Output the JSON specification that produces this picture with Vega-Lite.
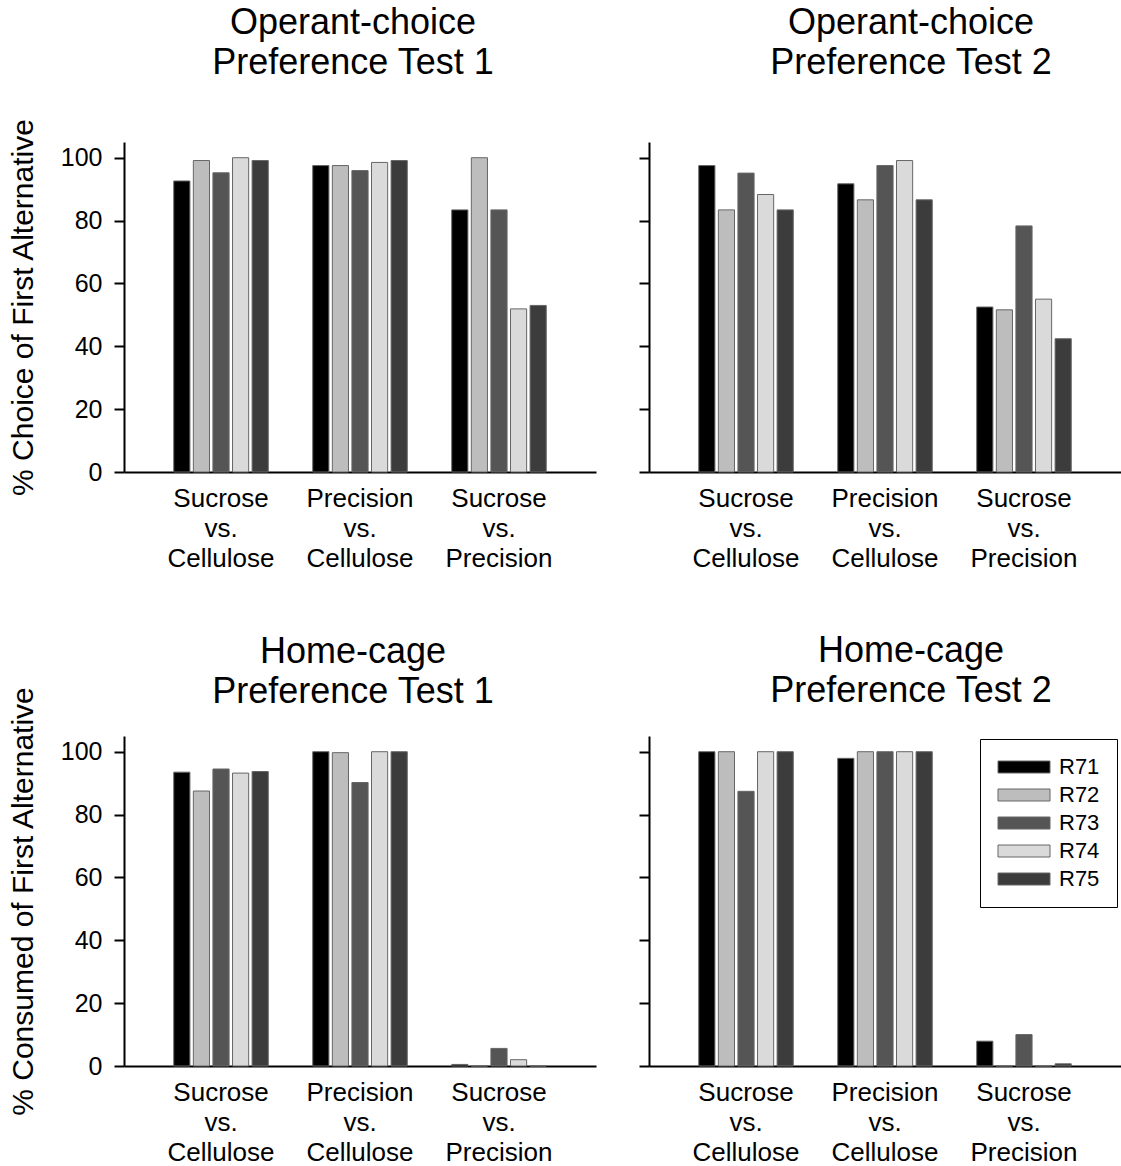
{
  "$schema": "https://vega.github.io/schema/vega-lite/v6.json",
  "padding": {"left": 8, "top": 4, "right": 0, "bottom": 0},
  "background": "white",
  "data": {"values": [
    {"panel": "TL", "comp": "Sucrose vs. Cellulose", "rat": "R71", "value": 92.6},
    {"panel": "TL", "comp": "Sucrose vs. Cellulose", "rat": "R72", "value": 99.1},
    {"panel": "TL", "comp": "Sucrose vs. Cellulose", "rat": "R73", "value": 95.2},
    {"panel": "TL", "comp": "Sucrose vs. Cellulose", "rat": "R74", "value": 100},
    {"panel": "TL", "comp": "Sucrose vs. Cellulose", "rat": "R75", "value": 99.1},
    {"panel": "TL", "comp": "Precision vs. Cellulose", "rat": "R71", "value": 97.5},
    {"panel": "TL", "comp": "Precision vs. Cellulose", "rat": "R72", "value": 97.5},
    {"panel": "TL", "comp": "Precision vs. Cellulose", "rat": "R73", "value": 95.9},
    {"panel": "TL", "comp": "Precision vs. Cellulose", "rat": "R74", "value": 98.5},
    {"panel": "TL", "comp": "Precision vs. Cellulose", "rat": "R75", "value": 99.1},
    {"panel": "TL", "comp": "Sucrose vs. Precision", "rat": "R71", "value": 83.4},
    {"panel": "TL", "comp": "Sucrose vs. Precision", "rat": "R72", "value": 100},
    {"panel": "TL", "comp": "Sucrose vs. Precision", "rat": "R73", "value": 83.4},
    {"panel": "TL", "comp": "Sucrose vs. Precision", "rat": "R74", "value": 51.9},
    {"panel": "TL", "comp": "Sucrose vs. Precision", "rat": "R75", "value": 53},
    {"panel": "TR", "comp": "Sucrose vs. Cellulose", "rat": "R71", "value": 97.5},
    {"panel": "TR", "comp": "Sucrose vs. Cellulose", "rat": "R72", "value": 83.4},
    {"panel": "TR", "comp": "Sucrose vs. Cellulose", "rat": "R73", "value": 95.1},
    {"panel": "TR", "comp": "Sucrose vs. Cellulose", "rat": "R74", "value": 88.3},
    {"panel": "TR", "comp": "Sucrose vs. Cellulose", "rat": "R75", "value": 83.4},
    {"panel": "TR", "comp": "Precision vs. Cellulose", "rat": "R71", "value": 91.7},
    {"panel": "TR", "comp": "Precision vs. Cellulose", "rat": "R72", "value": 86.6},
    {"panel": "TR", "comp": "Precision vs. Cellulose", "rat": "R73", "value": 97.5},
    {"panel": "TR", "comp": "Precision vs. Cellulose", "rat": "R74", "value": 99.1},
    {"panel": "TR", "comp": "Precision vs. Cellulose", "rat": "R75", "value": 86.6},
    {"panel": "TR", "comp": "Sucrose vs. Precision", "rat": "R71", "value": 52.5},
    {"panel": "TR", "comp": "Sucrose vs. Precision", "rat": "R72", "value": 51.6},
    {"panel": "TR", "comp": "Sucrose vs. Precision", "rat": "R73", "value": 78.3},
    {"panel": "TR", "comp": "Sucrose vs. Precision", "rat": "R74", "value": 55},
    {"panel": "TR", "comp": "Sucrose vs. Precision", "rat": "R75", "value": 42.4},
    {"panel": "BL", "comp": "Sucrose vs. Cellulose", "rat": "R71", "value": 93.5},
    {"panel": "BL", "comp": "Sucrose vs. Cellulose", "rat": "R72", "value": 87.5},
    {"panel": "BL", "comp": "Sucrose vs. Cellulose", "rat": "R73", "value": 94.5},
    {"panel": "BL", "comp": "Sucrose vs. Cellulose", "rat": "R74", "value": 93.2},
    {"panel": "BL", "comp": "Sucrose vs. Cellulose", "rat": "R75", "value": 93.7},
    {"panel": "BL", "comp": "Precision vs. Cellulose", "rat": "R71", "value": 100},
    {"panel": "BL", "comp": "Precision vs. Cellulose", "rat": "R72", "value": 99.7},
    {"panel": "BL", "comp": "Precision vs. Cellulose", "rat": "R73", "value": 90.2},
    {"panel": "BL", "comp": "Precision vs. Cellulose", "rat": "R74", "value": 100},
    {"panel": "BL", "comp": "Precision vs. Cellulose", "rat": "R75", "value": 100},
    {"panel": "BL", "comp": "Sucrose vs. Precision", "rat": "R71", "value": 0.5},
    {"panel": "BL", "comp": "Sucrose vs. Precision", "rat": "R72", "value": 0},
    {"panel": "BL", "comp": "Sucrose vs. Precision", "rat": "R73", "value": 5.6},
    {"panel": "BL", "comp": "Sucrose vs. Precision", "rat": "R74", "value": 2.0},
    {"panel": "BL", "comp": "Sucrose vs. Precision", "rat": "R75", "value": 0},
    {"panel": "BR", "comp": "Sucrose vs. Cellulose", "rat": "R71", "value": 100},
    {"panel": "BR", "comp": "Sucrose vs. Cellulose", "rat": "R72", "value": 100},
    {"panel": "BR", "comp": "Sucrose vs. Cellulose", "rat": "R73", "value": 87.4},
    {"panel": "BR", "comp": "Sucrose vs. Cellulose", "rat": "R74", "value": 100},
    {"panel": "BR", "comp": "Sucrose vs. Cellulose", "rat": "R75", "value": 100},
    {"panel": "BR", "comp": "Precision vs. Cellulose", "rat": "R71", "value": 97.9},
    {"panel": "BR", "comp": "Precision vs. Cellulose", "rat": "R72", "value": 100},
    {"panel": "BR", "comp": "Precision vs. Cellulose", "rat": "R73", "value": 100},
    {"panel": "BR", "comp": "Precision vs. Cellulose", "rat": "R74", "value": 100},
    {"panel": "BR", "comp": "Precision vs. Cellulose", "rat": "R75", "value": 100},
    {"panel": "BR", "comp": "Sucrose vs. Precision", "rat": "R71", "value": 7.9},
    {"panel": "BR", "comp": "Sucrose vs. Precision", "rat": "R72", "value": 0},
    {"panel": "BR", "comp": "Sucrose vs. Precision", "rat": "R73", "value": 10},
    {"panel": "BR", "comp": "Sucrose vs. Precision", "rat": "R74", "value": 0},
    {"panel": "BR", "comp": "Sucrose vs. Precision", "rat": "R75", "value": 0.7}
  ]},
  "vconcat": [
    {
      "resolve": {"scale": {"color": "independent", "x": "independent", "y": "independent"}, "legend": {"color": "independent"}},
      "hconcat": [
        {
          "width": 472, "height": 330,
          "transform": [{"filter": "datum.panel === 'TL'"}],
          "title": {"text": ["Operant-choice", "Preference Test 1"], "offset": 36, "dx": -7},
          "mark": {"type": "bar", "stroke": "#666666", "strokeWidth": 1},
          "encoding": {
            "x": {"field": "comp", "type": "nominal", "sort": ["Sucrose vs. Cellulose", "Precision vs. Cellulose", "Sucrose vs. Precision"], "scale": {"paddingInner": 0.32, "paddingOuter": 0.358}, "axis": {"title": null}},
            "xOffset": {"field": "rat", "type": "nominal", "sort": ["R71", "R72", "R73", "R74", "R75"], "scale": {"paddingInner": 0.175, "paddingOuter": 0}},
            "y": {"field": "value", "type": "quantitative", "scale": {"domain": [0, 105], "nice": false, "zero": true}, "axis": {"values": [0, 20, 40, 60, 80, 100], "title": "% Choice of First Alternative"}},
            "color": {"field": "rat", "type": "nominal", "scale": {"domain": ["R71", "R72", "R73", "R74", "R75"], "range": ["#000000", "#bdbdbd", "#555555", "#dadada", "#3c3c3c"]}, "legend": null}
          }
        },
        {
          "width": 472, "height": 330,
          "transform": [{"filter": "datum.panel === 'TR'"}],
          "title": {"text": ["Operant-choice", "Preference Test 2"], "offset": 60, "dx": 26},
          "mark": {"type": "bar", "stroke": "#666666", "strokeWidth": 1},
          "encoding": {
            "x": {"field": "comp", "type": "nominal", "sort": ["Sucrose vs. Cellulose", "Precision vs. Cellulose", "Sucrose vs. Precision"], "scale": {"paddingInner": 0.32, "paddingOuter": 0.358}, "axis": {"title": null}},
            "xOffset": {"field": "rat", "type": "nominal", "sort": ["R71", "R72", "R73", "R74", "R75"], "scale": {"paddingInner": 0.175, "paddingOuter": 0}},
            "y": {"field": "value", "type": "quantitative", "scale": {"domain": [0, 105], "nice": false, "zero": true}, "axis": {"values": [0, 20, 40, 60, 80, 100], "title": null, "labels": false}},
            "color": {"field": "rat", "type": "nominal", "scale": {"domain": ["R71", "R72", "R73", "R74", "R75"], "range": ["#000000", "#bdbdbd", "#555555", "#dadada", "#3c3c3c"]}, "legend": null}
          }
        }
      ]
    },
    {
      "resolve": {"scale": {"color": "independent", "x": "independent", "y": "independent"}, "legend": {"color": "independent"}},
      "hconcat": [
        {
          "width": 472, "height": 330,
          "transform": [{"filter": "datum.panel === 'BL'"}],
          "title": {"text": ["Home-cage", "Preference Test 1"], "offset": -25, "dx": -7},
          "mark": {"type": "bar", "stroke": "#666666", "strokeWidth": 1},
          "encoding": {
            "x": {"field": "comp", "type": "nominal", "sort": ["Sucrose vs. Cellulose", "Precision vs. Cellulose", "Sucrose vs. Precision"], "scale": {"paddingInner": 0.32, "paddingOuter": 0.358}, "axis": {"title": null}},
            "xOffset": {"field": "rat", "type": "nominal", "sort": ["R71", "R72", "R73", "R74", "R75"], "scale": {"paddingInner": 0.175, "paddingOuter": 0}},
            "y": {"field": "value", "type": "quantitative", "scale": {"domain": [0, 105], "nice": false, "zero": true}, "axis": {"values": [0, 20, 40, 60, 80, 100], "title": "% Consumed of First Alternative"}},
            "color": {"field": "rat", "type": "nominal", "scale": {"domain": ["R71", "R72", "R73", "R74", "R75"], "range": ["#000000", "#bdbdbd", "#555555", "#dadada", "#3c3c3c"]}, "legend": null}
          }
        },
        {
          "width": 472, "height": 330,
          "transform": [{"filter": "datum.panel === 'BR'"}],
          "title": {"text": ["Home-cage", "Preference Test 2"], "offset": 26, "dx": 26},
          "mark": {"type": "bar", "stroke": "#666666", "strokeWidth": 1},
          "encoding": {
            "x": {"field": "comp", "type": "nominal", "sort": ["Sucrose vs. Cellulose", "Precision vs. Cellulose", "Sucrose vs. Precision"], "scale": {"paddingInner": 0.32, "paddingOuter": 0.358}, "axis": {"title": null}},
            "xOffset": {"field": "rat", "type": "nominal", "sort": ["R71", "R72", "R73", "R74", "R75"], "scale": {"paddingInner": 0.175, "paddingOuter": 0}},
            "y": {"field": "value", "type": "quantitative", "scale": {"domain": [0, 105], "nice": false, "zero": true}, "axis": {"values": [0, 20, 40, 60, 80, 100], "title": null, "labels": false}},
            "color": {"field": "rat", "type": "nominal", "scale": {"domain": ["R71", "R72", "R73", "R74", "R75"], "range": ["#000000", "#bdbdbd", "#555555", "#dadada", "#3c3c3c"]},
              "legend": {"orient": "none", "legendX": 331, "legendY": 3, "title": null, "strokeColor": "#000000", "fillColor": "#ffffff", "padding": 17, "symbolType": "M-2.6,-0.6H2.6V0.6H-2.6Z", "symbolSize": 400, "symbolOffset": 16, "labelOffset": 24, "labelFontSize": 22, "labelFont": "Liberation Sans", "labelColor": "#000000", "rowPadding": 6, "symbolStrokeColor": "#666666", "symbolStrokeWidth": 1}}
          }
        }
      ]
    }
  ],
  "spacing": 62,
  "resolve": {"scale": {"color": "independent", "x": "independent", "y": "independent"}, "legend": {"color": "independent"}},
  "config": {
    "font": "Liberation Sans",
    "view": {"stroke": null},
    "concat": {"spacing": 42},
    "title": {"fontSize": 36, "fontWeight": "normal", "lineHeight": 40, "color": "#000000", "anchor": "middle", "frame": "group", "font": "Liberation Sans"},
    "axisX": {"ticks": false, "domainColor": "#000000", "domainWidth": 2, "labelFontSize": 26, "labelLineHeight": 30, "labelAngle": 0, "labelColor": "#000000", "labelPadding": 13, "labelExpr": "split(datum.label, ' ')", "labelFont": "Liberation Sans", "grid": false},
    "axisY": {"grid": false, "domainColor": "#000000", "domainWidth": 2, "tickColor": "#000000", "tickWidth": 2, "tickSize": 10, "labelFontSize": 25, "labelColor": "#000000", "labelPadding": 12, "labelFont": "Liberation Sans", "titleFontSize": 30, "titleFontWeight": "normal", "titleColor": "#000000", "titlePadding": 22, "titleFont": "Liberation Sans"}
  }
}
